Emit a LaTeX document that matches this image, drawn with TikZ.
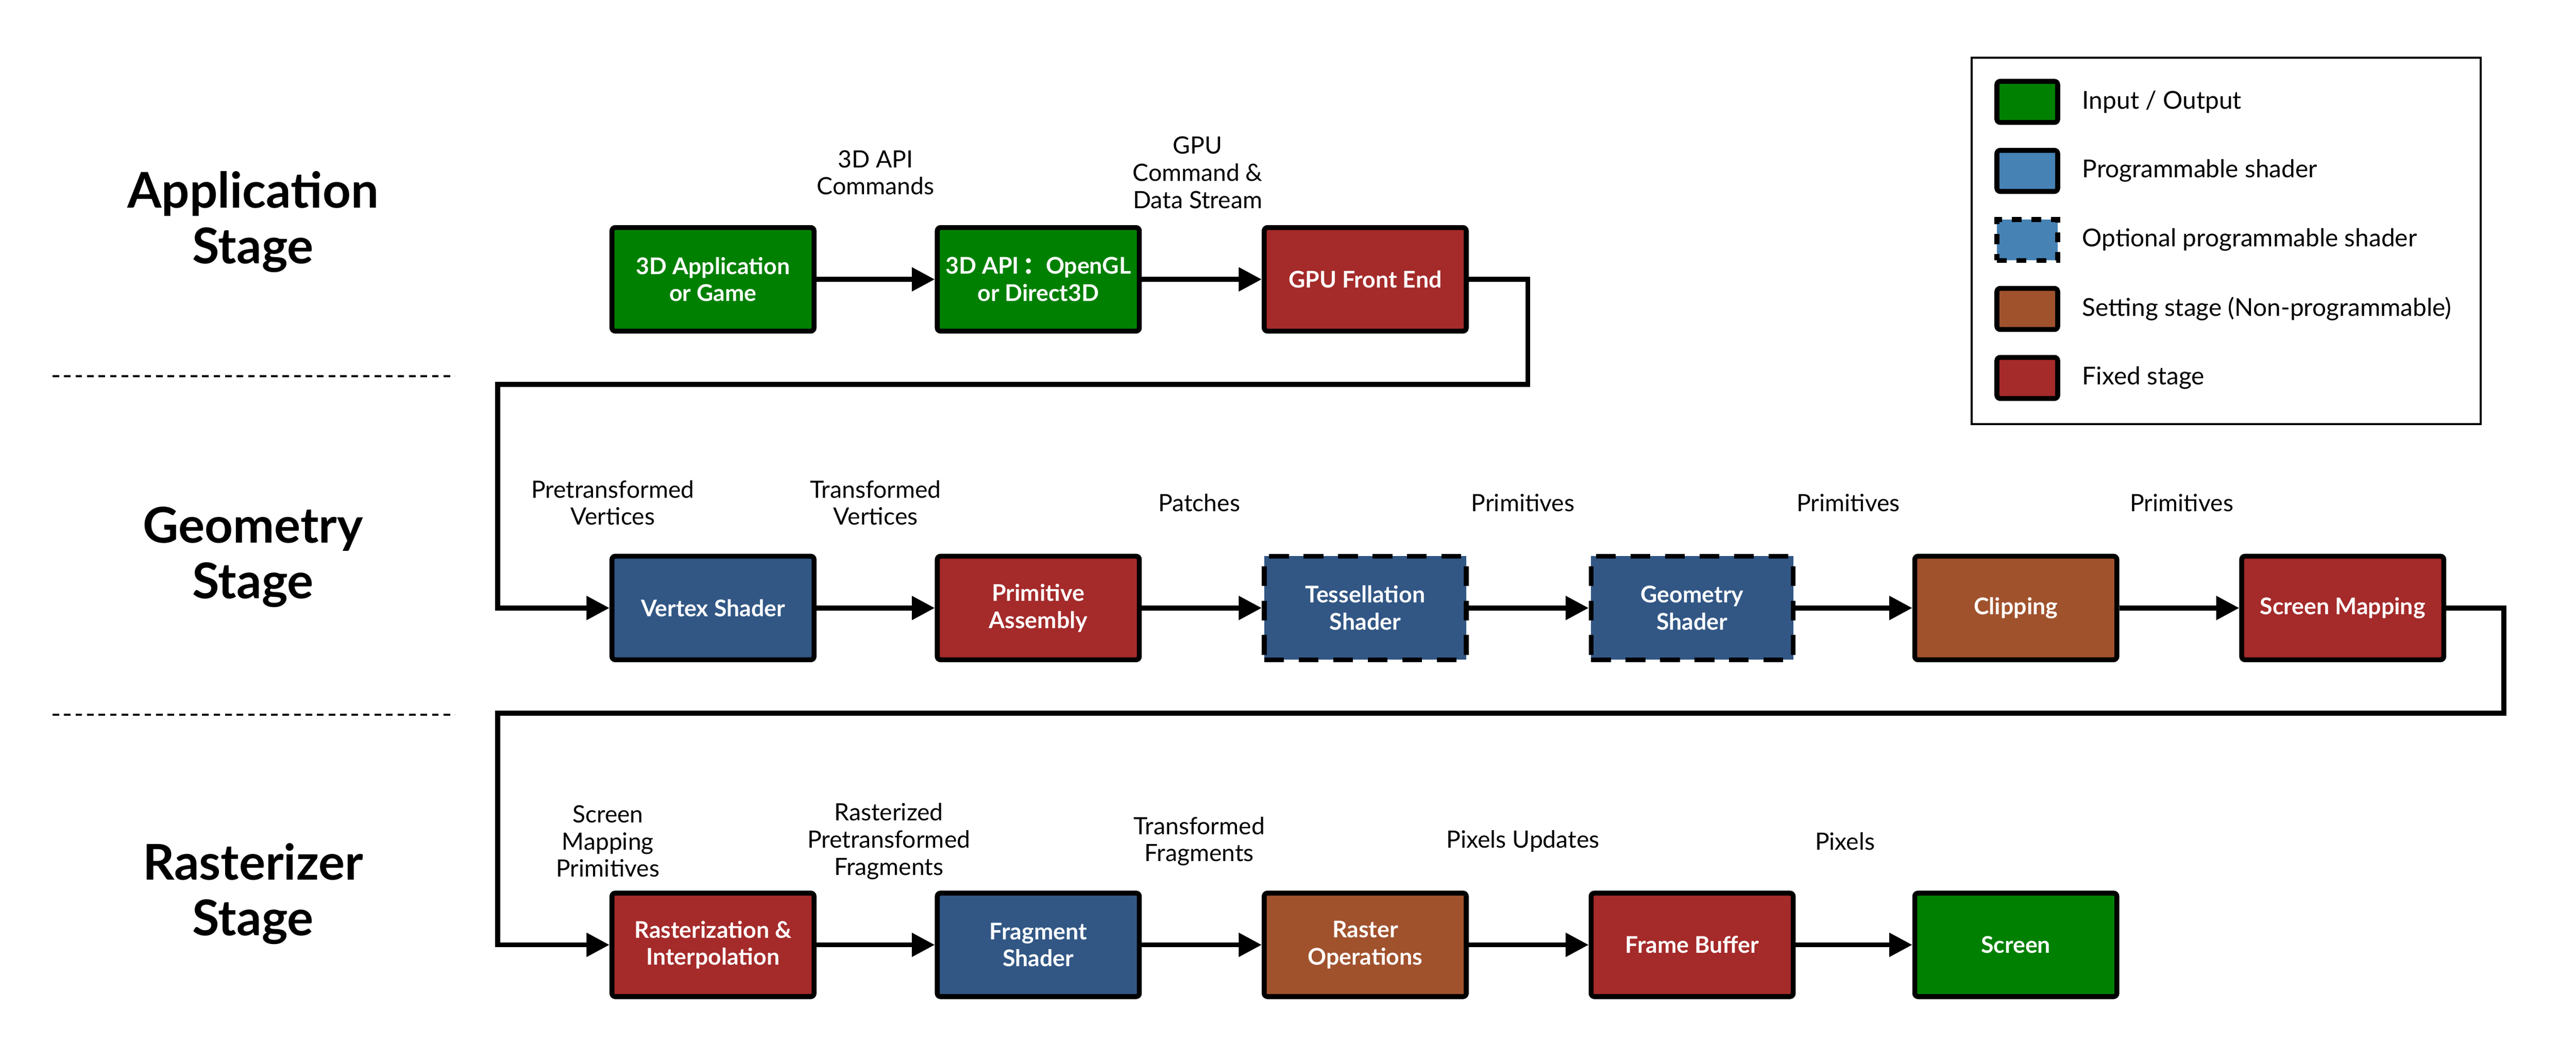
\documentclass[tikz,border=0pt]{standalone}
\usepackage{fontspec}
\setmainfont{Lato}
\newfontfamily\cjk{Noto Sans CJK SC}
\usetikzlibrary{arrows.meta}
\definecolor{cgreen}{RGB}{0,128,0}
\definecolor{cred}{RGB}{165,42,42}
\definecolor{cblue}{RGB}{50,87,133}
\definecolor{cbluel}{RGB}{70,130,180}
\definecolor{cbrown}{RGB}{160,82,45}
\tikzset{
  stagebox/.style={draw=black, line width=3pt, rounded corners=2pt, minimum width=123pt, minimum height=63pt,
    text=white, font=\fontsize{14}{16.5}\selectfont\bfseries, align=center, inner sep=1pt},
  iobox/.style={stagebox, fill=cgreen},
  fixbox/.style={stagebox, fill=cred},
  progbox/.style={stagebox, fill=cblue},
  optbox/.style={stagebox, fill=cblue, rounded corners=0pt, dash pattern=on 12pt off 9pt, dash phase=0pt},
  setbox/.style={stagebox, fill=cbrown},
  conn/.style={line width=3pt, -{Triangle[length=14pt,width=14pt]}},
  elabel/.style={font=\fontsize{14.5}{16.5}\selectfont, align=center, text=black},
  stagelabel/.style={font=\fontsize{30}{34}\selectfont\bfseries, align=center},
  sep/.style={line width=1.3pt, dash pattern=on 4pt off 3pt},
  swatch/.style={draw=black, line width=3pt, rounded corners=2pt, minimum width=37pt, minimum height=25pt, inner sep=0pt},
  legtext/.style={font=\fontsize{15}{17}\selectfont, anchor=west},
}
\begin{document}
\begin{tikzpicture}[x=1pt,y=-1pt]
\useasboundingbox (0,0) rectangle (1568,635.2);

% stage labels
\node[stagelabel] (lapp) at (154,135) {Application\\Stage};
\node[stagelabel] (lgeo) at (154,339) {Geometry\\Stage};
\node[stagelabel] (lras) at (154,544) {Rasterizer\\Stage};
\coordinate (s1a) at (32,229); \coordinate (s1b) at (277,229);
\coordinate (s2a) at (32,435); \coordinate (s2b) at (277,435);
\draw[sep] (s1a) -- (s1b);
\draw[sep] (s2a) -- (s2b);

% application row
\node[iobox] (app) at (434,170) {3D Application\\or Game};
\node[iobox] (api) at (632,170) {3D API\,{\cjk ：}OpenGL\\or Direct3D};
\node[fixbox] (gfe) at (831,170) {GPU Front End};

% geometry row
\node[progbox] (vs) at (434,370) {Vertex Shader};
\node[fixbox] (pa) at (632,370) {Primitive\\Assembly};
\node[optbox] (ts) at (831,370) {Tessellation\\Shader};
\node[optbox] (gs) at (1030,370) {Geometry\\Shader};
\node[setbox] (cl) at (1227,370) {Clipping};
\node[fixbox] (sm) at (1426,370) {Screen Mapping};

% rasterizer row
\node[fixbox] (ri) at (434,575) {Rasterization \&\\Interpolation};
\node[progbox] (fs) at (632,575) {Fragment\\Shader};
\node[setbox] (ro) at (831,575) {Raster\\Operations};
\node[fixbox] (fb) at (1030,575) {Frame Buffer};
\node[iobox] (sc) at (1227,575) {Screen};

% connectors
\draw[conn] (app) -- (api);
\draw[conn] (api) -- (gfe);
\coordinate (t1) at (930,234); \coordinate (t2) at (303,234);
\draw[conn] (gfe.east) -| (t1) -- (t2) |- (vs.west);
\draw[conn] (vs) -- (pa);
\draw[conn] (pa) -- (ts);
\draw[conn] (ts) -- (gs);
\draw[conn] (gs) -- (cl);
\draw[conn] (cl) -- (sm);
\coordinate (t3) at (1524,434); \coordinate (t4) at (303,434);
\draw[conn] (sm.east) -| (t3) -- (t4) |- (ri.west);
\draw[conn] (ri) -- (fs);
\draw[conn] (fs) -- (ro);
\draw[conn] (ro) -- (fb);
\draw[conn] (fb) -- (sc);

% edge labels
\node[elabel] (e1) at (533,105) {3D API\\Commands};
\node[elabel] (e2) at (729,105) {GPU\\Command \&\\Data Stream};
\node[elabel] (e3) at (373,306) {Pretransformed\\Vertices};
\node[elabel] (e4) at (533,306) {Transformed\\Vertices};
\node[elabel] (e5) at (730,306) {Patches};
\node[elabel] (e6) at (927,306) {Primitives};
\node[elabel] (e7) at (1125,306) {Primitives};
\node[elabel] (e8) at (1328,306) {Primitives};
\node[elabel] (e9) at (370,512) {Screen\\Mapping\\Primitives};
\node[elabel] (e10) at (541,512) {Rasterized\\Pretransformed\\Fragments};
\node[elabel] (e11) at (730,512) {Transformed\\Fragments};
\node[elabel] (e12) at (927,512) {Pixels Updates};
\node[elabel] (e13) at (1123,512) {Pixels};

% legend
\draw[line width=1.3pt] (1200,35) rectangle (1510,258);
\node[swatch, fill=cgreen] (k1) at (1234,62) {};
\node[swatch, fill=cbluel] (k2) at (1234,104) {};
\node[swatch, fill=cbluel, rounded corners=0pt, dash pattern=on 6pt off 6pt] (k3) at (1234,146) {};
\node[swatch, fill=cbrown] (k4) at (1234,188) {};
\node[swatch, fill=cred] (k5) at (1234,230) {};
\node[legtext] (g1) at (1264,62) {Input / Output};
\node[legtext] (g2) at (1264,104) {Programmable shader};
\node[legtext] (g3) at (1264,146) {Optional programmable shader};
\node[legtext] (g4) at (1264,188) {Setting stage (Non-programmable)};
\node[legtext] (g5) at (1264,230) {Fixed stage};
\end{tikzpicture}
\end{document}
